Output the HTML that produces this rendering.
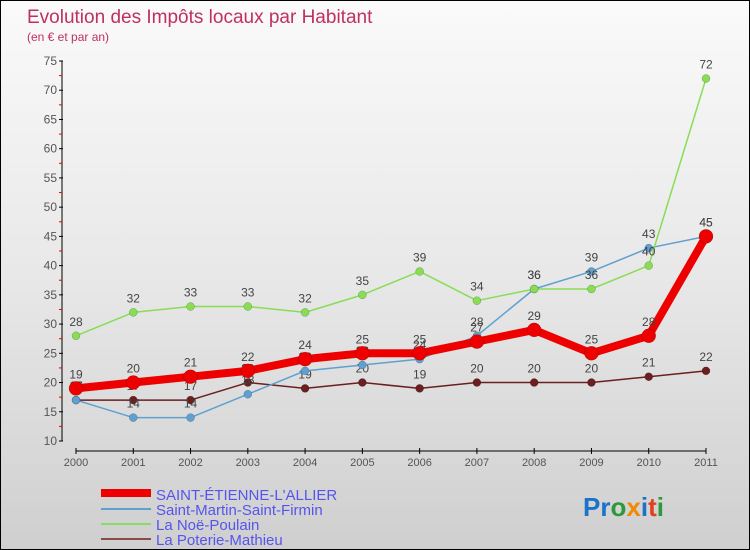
<!DOCTYPE html>
<html><head><meta charset="utf-8"><style>
body{margin:0}
#c{width:750px;height:550px;position:relative;overflow:hidden;border:1px solid #000;box-sizing:border-box;background:linear-gradient(#fafafa,#e8e8e8 50%,#cfcfcf);font-family:"Liberation Sans",sans-serif}
</style></head><body>
<div id="c">
<svg id="s" width="750" height="550" style="position:absolute;left:0;top:0">
<text x="26" y="22" font-size="19" fill="#c0305e">Evolution des Impôts locaux par Habitant</text>
<text x="26" y="40" font-size="12" fill="#c0305e">(en € et par an)</text>
<g id="axes"></g><g id="series"></g>
<g font-size="15" fill="#5555ee">
<line x1="100" y1="492" x2="150" y2="492" stroke="#e00" stroke-width="8"/>
<text x="155" y="499">SAINT-ÉTIENNE-L'ALLIER</text>
<line x1="100" y1="508" x2="150" y2="508" stroke="#5fa0d0" stroke-width="2"/>
<text x="155" y="514">Saint-Martin-Saint-Firmin</text>
<line x1="100" y1="523" x2="150" y2="523" stroke="#88dd66" stroke-width="2"/>
<text x="155" y="529">La Noë-Poulain</text>
<line x1="100" y1="538" x2="150" y2="538" stroke="#8a4a4a" stroke-width="2"/>
<text x="155" y="544">La Poterie-Mathieu</text>
</g>
<text x="582" y="515" font-size="26" font-weight="bold"><tspan fill="#1a73c8">Pr</tspan><tspan fill="#2a9a3a">o</tspan><tspan fill="#f08a00">x</tspan><tspan fill="#1a73c8">i</tspan><tspan fill="#e04020">t</tspan><tspan fill="#2a9a3a">i</tspan></text>
</svg>
</div>
<script>
const years=[2000,2001,2002,2003,2004,2005,2006,2007,2008,2009,2010,2011];
const stEtienne=[19,20,21,22,24,25,25,27,29,25,28,45];
const stMartin=[17,14,14,18,22,23,24,28,36,39,43,45];
const laNoe=[28,32,33,33,32,35,39,34,36,36,40,72];
const laPoterie=[17,17,17,20,19,20,19,20,20,20,21,22];
const yTicks=[10,15,20,25,30,35,40,45,50,55,60,65,70,75];
const NS='http://www.w3.org/2000/svg';
function xs(i){return 75+i*(705-75)/11;}
function ys(v){return 440-(v-10)*(380/65);}
function mk(t,a,p){const e=document.createElementNS(NS,t);for(const k in a)e.setAttribute(k,a[k]);p.appendChild(e);return e;}
const ax=document.getElementById('axes');
let l=mk('line',{x1:61,y1:60,x2:61,y2:440,stroke:'#000','stroke-width':1},ax);


l=mk('line',{x1:75,y1:450,x2:705,y2:450,stroke:'#000','stroke-width':1},ax);


yTicks.forEach(v=>{
 const y=ys(v);
 mk('line',{x1:58,y1:y,x2:62,y2:y,stroke:'#000'},ax);
 if(v<75)mk('line',{x1:58,y1:ys(v+2.5),x2:61,y2:ys(v+2.5),stroke:'#e00'},ax);
 const t=mk('text',{x:56,y:y+4,'text-anchor':'end','font-size':12,fill:'#555'},ax);
 t.textContent=v;
 
 
});
years.forEach((yr,i)=>{
 const x=xs(i);
 mk('line',{x1:x,y1:447,x2:x,y2:453,stroke:'#000'},ax);
 const t=mk('text',{x:x,y:465,'text-anchor':'middle','font-size':11,fill:'#555'},ax);
 t.textContent=yr;
 
 
});
const sg=document.getElementById('series');
function draw(data,color,w,r,name){
 const g=mk('g',{},sg);
 
 
 mk('polyline',{points:data.map((v,i)=>xs(i)+','+ys(v)).join(' '),fill:'none',stroke:color,'stroke-width':w,'stroke-linejoin':'round'},g);
 data.forEach((v,i)=>{
  const c=mk('circle',{cx:xs(i),cy:ys(v),r:r,fill:color,stroke:'rgba(0,0,0,0.3)','stroke-width':0.5},g);
  
  
  const t=mk('text',{x:xs(i),y:ys(v)-10,'text-anchor':'middle','font-size':12,fill:'#444'},g);
  t.textContent=v;
 });
}
draw(laPoterie,'#6b1f1f',1.5,4,'series-la-poterie');
draw(stMartin,'#5fa0d0',1.5,4,'series-saint-martin');
draw(laNoe,'#88dd55',1.5,4,'series-la-noe');
draw(stEtienne,'#ee0000',8,7,'series-saint-etienne');
</script>
</body></html>
